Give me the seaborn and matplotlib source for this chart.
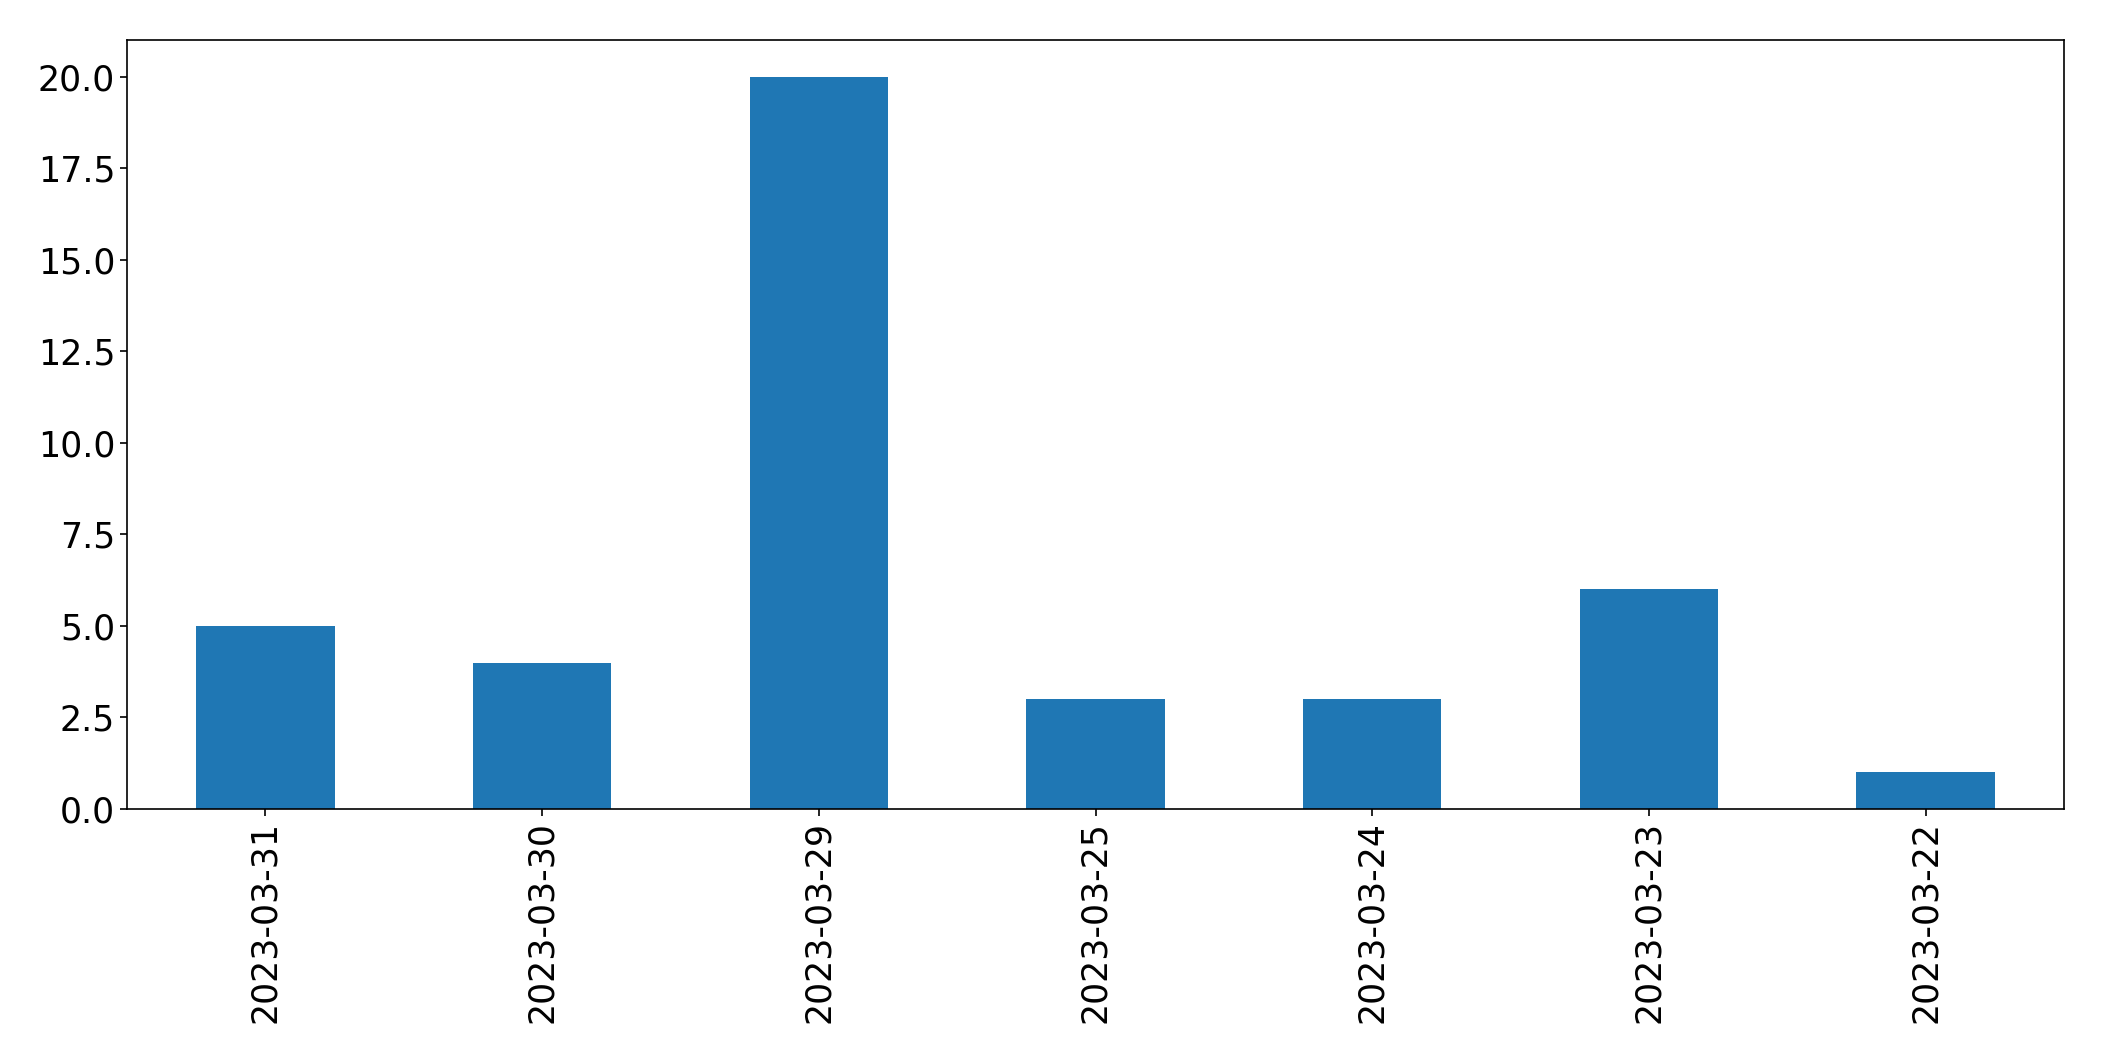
import matplotlib
matplotlib.use("Agg")
import matplotlib.pyplot as plt
import seaborn as sns
import pandas as pd

dates = ["2023-03-31", "2023-03-30", "2023-03-29", "2023-03-25", "2023-03-24", "2023-03-23", "2023-03-22"]
counts = [5, 4, 20, 3, 3, 6, 1]

df = pd.DataFrame({"date": dates, "count": counts})

sns.set_style("ticks")
plt.rcParams['font.family'] = ['DejaVu Sans']

fig = plt.figure(figsize=(21.04, 10.61), dpi=100)
ax = fig.add_axes([127/2104, 1 - 809/1061, (2064-127)/2104, (809-40)/1061])
sns.barplot(data=df, x="date", y="count", color="#1f77b4", saturation=1, width=0.5,
            linewidth=0, ax=ax, order=dates)
ax.set_xlim(-0.5, len(dates) - 0.5)
ax.set_ylim(0, 21)
ax.set_xlabel("")
ax.set_ylabel("")
ax.tick_params(axis='both', labelsize=25, length=5, width=1.2, colors='black')
ax.tick_params(axis='x', labelrotation=90)
for s in ax.spines.values():
    s.set_visible(True)
    s.set_linewidth(1.2)
    s.set_color('black')
fig.savefig("out.png", dpi=100)
